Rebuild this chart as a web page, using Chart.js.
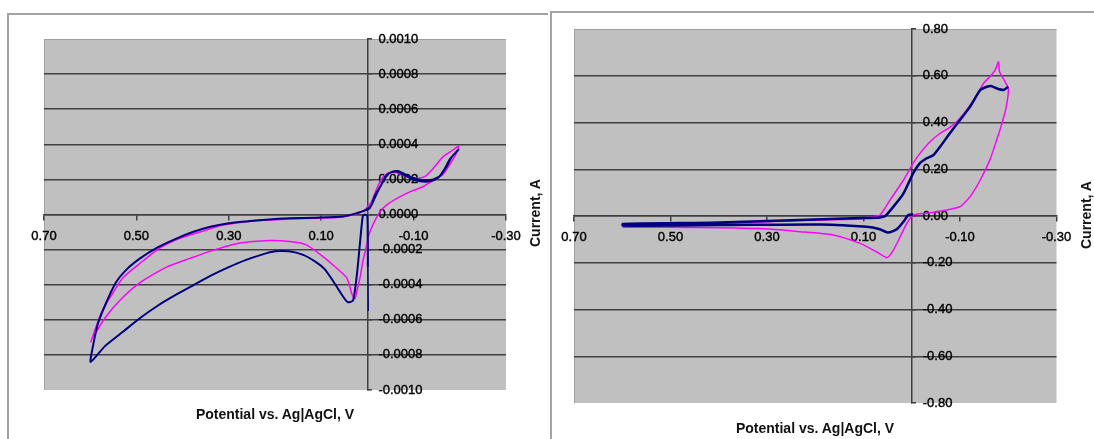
<!DOCTYPE html>
<html>
<head>
<meta charset="utf-8">
<script src="https://cdn.jsdelivr.net/npm/chart.js@4.4.1/dist/chart.umd.min.js"></script>
<style>
body { margin: 0; background: #fff; }
#wrap { position: relative; width: 1094px; height: 439px; overflow: hidden; background: #fff; font-family: 'Liberation Sans', Arial, sans-serif; }
.frame { position: absolute; height: 600px; border-top: 2px solid #a3a3a3; border-left: 2px solid #a3a3a3; }
canvas { position: absolute; top: 0; }
.xt, .yt { position: absolute; font-weight: bold; font-size: 14px; color: #111; white-space: nowrap; }
.xt { transform: translate(-50%, -50%); }
.yt { transform: translate(-50%, -50%) rotate(-90deg); }
</style>
</head>
<body>
<div id="wrap">
  <div class="frame" style="left:7px; top:13px; width:539px;"></div>
  <div class="frame" style="left:550px; top:11px; width:600px;"></div>
  <canvas id="left" width="548" height="439" style="left:0"></canvas>
  <canvas id="right" width="546" height="439" style="left:548px"></canvas>
  <div class="xt" style="left:275px; top:414px;">Potential vs. Ag|AgCl, V</div>
  <div class="yt" style="left:535px; top:213px;">Current, A</div>
  <div class="xt" style="left:815px; top:428px;">Potential vs. Ag|AgCl, V</div>
  <div class="yt" style="left:1086px; top:215px;">Current, A</div>
</div>
<script>
// left chart: potential (V) and current (A)
const leftNavyE = [-0.002, -0.001, 0.000, 0.005, 0.010, 0.016, 0.023, 0.031, 0.042, 0.052, 0.074, 0.093, 0.112, 0.139, 0.170, 0.200, 0.230, 0.264, 0.300, 0.340, 0.378, 0.416, 0.454, 0.492, 0.530, 0.568, 0.599, 0.594, 0.583, 0.565, 0.545, 0.520, 0.492, 0.456, 0.416, 0.378, 0.340, 0.300, 0.264, 0.220, 0.168, 0.112, 0.053, 0.023, -0.005, -0.016, -0.029, -0.040, -0.053, -0.064, -0.079, -0.096, -0.114, -0.135, -0.153, -0.166, -0.179, -0.197, -0.183, -0.170, -0.157, -0.140, -0.114, -0.088, -0.066, -0.049, -0.036, -0.020, -0.008, 0.002];
const leftNavyI = [-0.00055, -0.00030, -0.00001, 0.0, -0.00001, -0.00016, -0.00035, -0.00049, -0.00050, -0.00047, -0.00038, -0.00031, -0.00027, -0.00023, -0.00021, -0.00021, -0.00023, -0.00026, -0.00030, -0.00035, -0.000405, -0.00046, -0.00052, -0.00059, -0.00067, -0.00075, -0.00084, -0.00075, -0.00062, -0.00050, -0.00039, -0.00031, -0.00025, -0.00019, -0.00014, -0.00010, -0.00007, -0.00005, -0.00004, -0.00003, -0.000022, -0.000018, -0.000011, 0.000008, 0.000036, 0.000107, 0.000164, 0.00022, 0.000243, 0.000245, 0.000226, 0.000203, 0.000189, 0.000189, 0.000209, 0.000255, 0.000317, 0.000369, 0.000329, 0.000266, 0.00022, 0.000198, 0.000198, 0.00022, 0.000248, 0.000238, 0.000198, 0.000118, 0.00005, 0.000027];
const leftPinkE = [0.599, 0.590, 0.576, 0.554, 0.529, 0.493, 0.449, 0.406, 0.363, 0.312, 0.240, 0.168, 0.096, 0.060, 0.023, 0.006, -0.008, -0.021, -0.034, -0.047, -0.064, -0.085, -0.107, -0.125, -0.143, -0.164, -0.186, -0.197, -0.194, -0.181, -0.163, -0.141, -0.120, -0.092, -0.066, -0.042, -0.027, -0.015, -0.004, 0.003, 0.010, 0.016, 0.023, 0.027, 0.034, 0.038, 0.045, 0.067, 0.096, 0.132, 0.168, 0.211, 0.276, 0.341, 0.384, 0.435, 0.493, 0.536, 0.568, 0.594];
const leftPinkI = [-0.00073, -0.00066, -0.00056, -0.00046, -0.00036, -0.00028, -0.00019, -0.000135, -0.00010, -0.00006, -0.000035, -0.000026, -0.00002, -0.000015, 0.000004, 0.000027, 0.000067, 0.000152, 0.000215, 0.000238, 0.000238, 0.000215, 0.000207, 0.000217, 0.000264, 0.00033, 0.000369, 0.000391, 0.000357, 0.000295, 0.000226, 0.000192, 0.000158, 0.000129, 0.000095, 0.000055, 0.000015, -0.000042, -0.00011, -0.00019, -0.00027, -0.00036, -0.00044, -0.00048, -0.00045, -0.00041, -0.00036, -0.000305, -0.00024, -0.000173, -0.000154, -0.000148, -0.000163, -0.00021, -0.00025, -0.0003, -0.00039, -0.00049, -0.00059, -0.00070];

// right chart
const rightNavyE = [-0.003, 0.007, 0.017, 0.031, 0.049, 0.066, 0.093, 0.190, 0.398, 0.599, 0.599, 0.398, 0.232, 0.107, 0.066, 0.055, 0.038, 0.017, -0.003, -0.017, -0.031, -0.045, -0.059, -0.079, -0.100, -0.121, -0.142, -0.156, -0.164, -0.176, -0.190, -0.200];
const rightNavyI = [0.007, 0.004, -0.024, -0.057, -0.071, -0.057, -0.046, -0.036, -0.039, -0.041, -0.034, -0.028, -0.017, -0.009, -0.006, 0.000, 0.040, 0.097, 0.183, 0.226, 0.247, 0.261, 0.297, 0.354, 0.411, 0.468, 0.539, 0.553, 0.556, 0.546, 0.539, 0.553];
const rightPinkE = [0.599, 0.398, 0.232, 0.107, 0.087, 0.066, 0.045, 0.017, -0.003, -0.017, -0.038, -0.059, -0.076, -0.093, -0.114, -0.135, -0.149, -0.162, -0.173, -0.180, -0.182, -0.200, -0.196, -0.187, -0.176, -0.162, -0.142, -0.121, -0.100, -0.073, -0.031, -0.003, 0.010, 0.024, 0.038, 0.051, 0.073, 0.107, 0.163, 0.232, 0.315, 0.439, 0.599];
const rightPinkI = [-0.043, -0.032, -0.019, -0.013, -0.006, 0.004, 0.068, 0.154, 0.226, 0.268, 0.318, 0.354, 0.375, 0.403, 0.454, 0.518, 0.568, 0.596, 0.625, 0.660, 0.617, 0.546, 0.468, 0.397, 0.325, 0.240, 0.154, 0.083, 0.040, 0.026, 0.012, 0.004, -0.031, -0.089, -0.146, -0.178, -0.153, -0.117, -0.081, -0.067, -0.054, -0.049, -0.048];

const fontFamily = "'Liberation Sans', Arial, sans-serif";
const gridColor = '#404040';

const toPoints = (e, i) => e.map((v, k) => ({ x: v, y: i[k] }));

const plotBg = {
    id: 'plotBg',
    beforeDraw(chart) {
        const { ctx, chartArea: a } = chart;
        ctx.save();
        ctx.fillStyle = '#c0c0c0';
        ctx.fillRect(a.left, a.top, a.right - a.left, a.bottom - a.top);
        ctx.strokeStyle = '#a0a0a0';
        ctx.lineWidth = 1;
        ctx.beginPath();
        ctx.moveTo(a.left + 0.5, a.bottom);
        ctx.lineTo(a.left + 0.5, a.top + 0.5);
        ctx.lineTo(a.right, a.top + 0.5);
        ctx.stroke();
        ctx.restore();
    },
};

// y tick labels sit to the right of the axis that crosses at x = 0
function yTickLabels(digits) {
    return {
        id: 'yTickLabels',
        beforeDatasetsDraw(chart) {
            const { ctx, scales } = chart;
            const x0 = scales.x.getPixelForValue(0) + 11;
            ctx.save();
            ctx.font = '13px ' + fontFamily;
            ctx.fillStyle = '#000';
            ctx.strokeStyle = '#000';
            ctx.lineWidth = 0.4;
            ctx.textAlign = 'left';
            ctx.textBaseline = 'middle';
            scales.y.ticks.forEach(t => {
                const v = Math.abs(t.value) < 1e-12 ? 0 : t.value;
                const py = scales.y.getPixelForValue(t.value);
                ctx.fillText(v.toFixed(digits), x0, py);
                ctx.strokeText(v.toFixed(digits), x0, py);
            });
            ctx.restore();
        },
    };
}

function buildChart(id, navy, pink, yMax, yStep, digits, pad, navyWidth) {
    const edge = v => Math.abs(Math.abs(v) - yMax) < yStep / 100;
    return new Chart(document.getElementById(id), {
        type: 'scatter',
        data: {
            datasets: [
                {
                    data: navy,
                    showLine: true,
                    borderColor: '#000080',
                    borderWidth: navyWidth,
                    // the first (start-up) segment of the left scan is a thin line
                    segment: { borderWidth: c => (id === 'left' && c.p0DataIndex === 0 ? 1.2 : undefined) },
                },
                {
                    data: pink,
                    showLine: true,
                    borderColor: '#ff00ff',
                    borderWidth: 1.5,
                },
            ],
        },
        options: {
            responsive: false,
            animation: false,
            devicePixelRatio: 1,
            layout: { padding: pad },
            plugins: { legend: { display: false }, tooltip: { enabled: false } },
            elements: { point: { radius: 0 }, line: { tension: 0.2 } },
            scales: {
                x: {
                    type: 'linear',
                    position: { y: 0 },
                    reverse: true,
                    min: -0.3,
                    max: 0.7,
                    ticks: {
                        stepSize: 0.2,
                        autoSkip: false,
                        maxRotation: 0,
                        padding: 9,
                        color: '#000',
                        textStrokeColor: '#000',
                        textStrokeWidth: 0.4,
                        font: { family: fontFamily, size: 13 },
                        callback: v => v.toFixed(2),
                    },
                    grid: { drawOnChartArea: false, drawTicks: true, tickLength: 5, color: gridColor, lineWidth: 1.5 },
                    border: { display: true, color: gridColor, width: 1.5 },
                },
                y: {
                    type: 'linear',
                    position: { x: 0 },
                    min: -yMax,
                    max: yMax,
                    ticks: { stepSize: yStep, display: false },
                    grid: {
                        color: c => (edge(c.tick.value) ? 'rgba(0,0,0,0)' : gridColor),
                        tickColor: gridColor,
                        tickLength: -5,
                        drawTicks: true,
                        lineWidth: 1.5,
                    },
                    border: { display: true, color: gridColor, width: 1.5 },
                },
            },
        },
        plugins: [plotBg, yTickLabels(digits)],
    });
}

buildChart('left', toPoints(leftNavyE, leftNavyI), toPoints(leftPinkE, leftPinkI),
    0.001, 0.0002, 4, { left: 44, top: 39, right: 42, bottom: 49 }, 2);
buildChart('right', toPoints(rightNavyE, rightNavyI), toPoints(rightPinkE, rightPinkI),
    0.8, 0.2, 2, { left: 26, top: 29, right: 37.5, bottom: 36 }, 2.5);
</script>
</body>
</html>
